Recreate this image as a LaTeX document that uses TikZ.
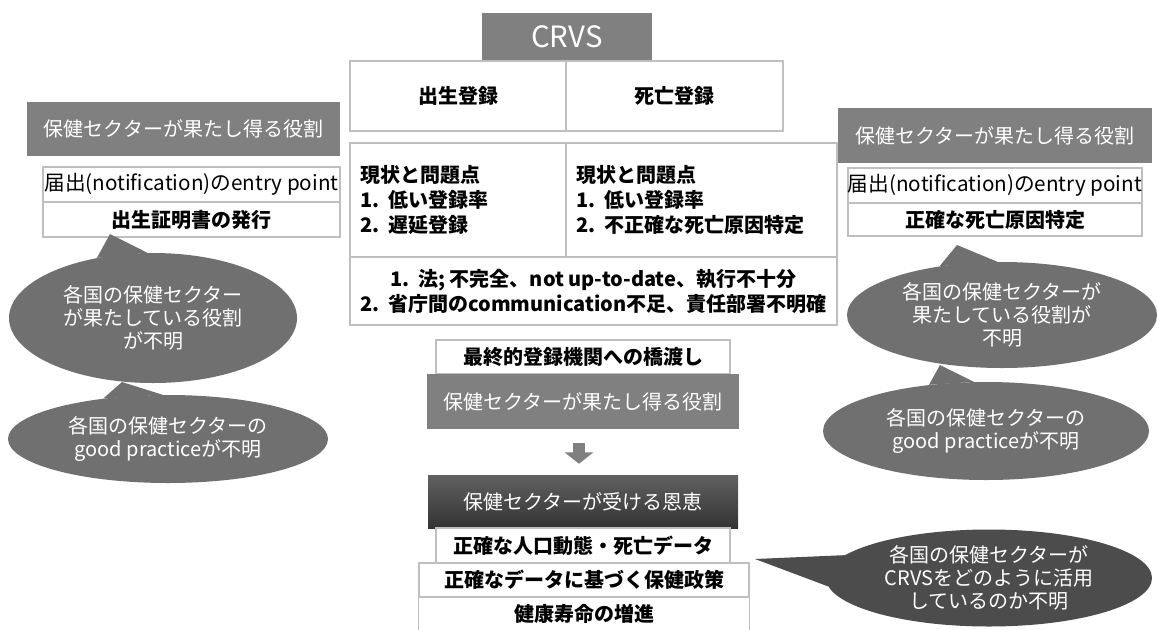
\documentclass[tikz,border=0pt]{standalone}
\usepackage{fontspec}
\setmainfont{Noto Sans CJK JP}
\usetikzlibrary{shapes.geometric,arrows.meta}
\newcommand{\fnt}{\fontsize{15}{18.75}\selectfont}
\newcommand{\bfnt}{\fontsize{15}{17.5}\selectfont}
\begin{document}
\begin{tikzpicture}[x=0.75pt,y=-0.75pt,
  sz/.style 2 args={minimum width=#1*0.75pt, minimum height=#2*0.75pt},
  cell/.style={draw=black!25, line width=1.1pt, fill=white, inner sep=0pt, text=black, font=\fnt\bfseries},
  entry/.style={cell, font=\fontsize{15.5}{18.75}\selectfont},
  hdr/.style={fill=black!50, text=white, inner sep=0pt, font=\fnt},
  bubble/.style={ellipse, fill=black!56, text=white, inner sep=0pt, align=center, font=\bfnt},
  tailfill/.style={fill=black!56},
  darkbubble/.style={ellipse, fill=black!70, text=white, inner sep=0pt, align=center, font=\bfnt},
  darktail/.style={fill=black!70},
  blockarrow/.style={draw=black!50, line width=9pt, -{Triangle[width=21pt,length=8.5pt]}}
]
\useasboundingbox (0,0) rectangle (1157,629);
\fill[white] (0,0) rectangle (1157,629);

% ---- CRVS centre table ----
\node[hdr, sz={170}{48}, font=\fontsize{22}{26}\selectfont] (crvs) at (567,37) {CRVS};
\node[cell, sz={216}{70}] (birth) at (458,96) {出生登録};
\node[cell, sz={217}{70}] (death) at (674.5,96) {死亡登録};
\node[cell, sz={216}{114}, align=left, text width=196*0.75pt] (statL) at (458,200)
  {現状と問題点\\1.\hspace{0.45em}低い登録率\\2.\hspace{0.45em}遅延登録};
\node[cell, sz={271}{114}, align=left, text width=251*0.75pt] (statR) at (701.5,200)
  {現状と問題点\\1.\hspace{0.45em}低い登録率\\2.\hspace{0.45em}不正確な死亡原因特定};
\node[cell, sz={487}{68}, align=center] (common) at (593.5,291)
  {1.\hspace{0.45em}法;\hspace{0.2em}不完全、not up-to-date、執行不十分\\2.\hspace{0.45em}省庁間のcommunication不足、責任部署不明確};

% ---- left column ----
\node[hdr, sz={313}{54}] (lhdr) at (183.5,129) {保健セクターが果たし得る役割};
\node[entry, sz={297}{35}] (litem1) at (191.5,184.5) {届出(notification)のentry point};
\node[cell, sz={297}{35}] (litem2) at (191.5,219.5) {出生証明書の発行};

\node[bubble, sz={288}{130}] (lb1) at (153,318) {各国の保健セクター\\が果たしている役割\\が不明};
\coordinate (lt1) at (110,234);
\fill[tailfill] (lb1.133) -- (lt1) -- (lb1.95) -- cycle;

\node[bubble, sz={320}{88}] (lb2) at (168,439) {各国の保健セクターの\\good practiceが不明};
\coordinate (lt2) at (122,382);
\fill[tailfill] (lb2.148) -- (lt2) -- (lb2.97) -- cycle;

% ---- right column ----
\node[hdr, sz={314}{55}] (rhdr) at (995,135.5) {保健セクターが果たし得る役割};
\node[entry, sz={294}{35}] (ritem1) at (995,185.5) {届出(notification)のentry point};
\node[cell, sz={294}{33}] (ritem2) at (995,219.5) {正確な死亡原因特定};

\node[bubble, sz={310}{106}] (rb1) at (1002,315) {各国の保健セクターが\\果たしている役割が\\不明};
\coordinate (rt1) at (957,245);
\fill[tailfill] (rb1.142) -- (rt1) -- (rb1.95) -- cycle;

\node[bubble, sz={326}{98}] (rb2) at (986,431) {各国の保健セクターの\\good practiceが不明};
\coordinate (rt2) at (940,365);
\fill[tailfill] (rb2.141) -- (rt2) -- (rb2.104) -- cycle;

% ---- middle flow ----
\node[cell, sz={294}{34}] (bridge) at (583,357) {最終的登録機関への橋渡し};
\node[hdr, sz={312}{55}] (role) at (583,401.5) {保健セクターが果たし得る役割};
\node[inner sep=0pt, top color=black!62, bottom color=black!80, text=white, font=\fnt, sz={310}{53}] (benefit) at (583,501.5) {保健セクターが受ける恩恵};
\draw[blockarrow, shorten <=10.5pt, shorten >=8.25pt] ([xshift=-3pt]role.south) -- ([xshift=-3pt]benefit.north);
\node[cell, sz={294}{35}] (data) at (583,545.5) {正確な人口動態・死亡データ};
\node[cell, sz={330}{34}] (policy) at (584,580) {正確なデータに基づく保健政策};
\node[inner sep=0pt, text=black, font=\fnt\bfseries, sz={330}{34}] (life) at (584,614) {健康寿命の増進};
\draw[draw=black!25, line width=1.1pt] (life.south west) -- (life.north west) -- (life.north east) -- (life.south east);

\node[darkbubble, sz={326}{97}] (bb) at (989,578) {各国の保健セクターが\\CRVSをどのように活用\\しているのか不明};
\coordinate (bt) at (755,559);
\fill[darktail] (bb.171) -- (bt) -- (bb.183) -- cycle;
\end{tikzpicture}
\end{document}
